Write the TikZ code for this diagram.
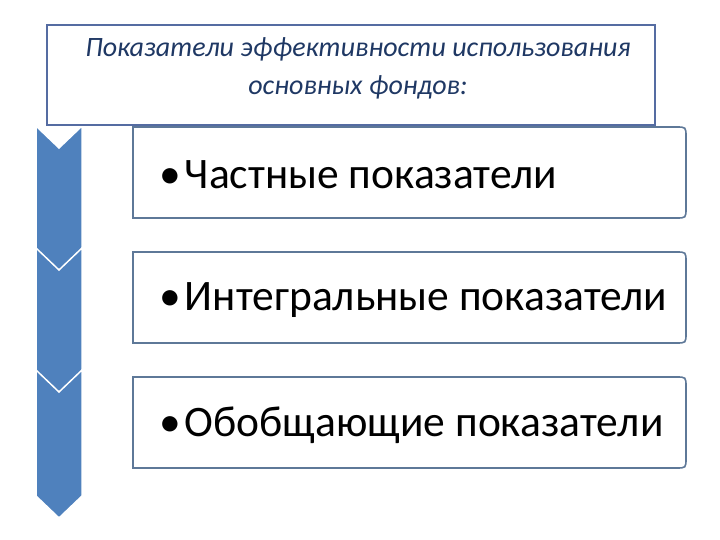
\documentclass[tikz,border=0pt]{standalone}
\usepackage{fontspec}
\setmainfont{Carlito}
\definecolor{chevblue}{HTML}{4F81BD}
\definecolor{framegray}{HTML}{5E7898}
\definecolor{titleblue}{HTML}{1F3864}
\begin{document}
\begin{tikzpicture}[x=1pt,y=-1pt,
    chevron/.style={fill=chevblue,draw=white,line width=1.5pt,line join=miter},
    itemframe/.style={draw=framegray,line width=1.6pt,fill=white},
    itemtext/.style={anchor=west,inner sep=0pt,font=\fontsize{43.5}{48}\selectfont},
    titlebox/.style={draw=framegray!90!blue,line width=1.6pt,fill=white,minimum width=608pt,minimum height=100pt,inner sep=0pt},
    titletext/.style={align=center,text=titleblue,inner sep=0pt,font=\fontsize{28}{38}\selectfont\itshape}]
\useasboundingbox[fill=white](0,0) rectangle (720,540);
% chevrons on the left
\foreach \yt in {126,248,370}
    \draw[chevron](36,\yt)--(59,\yt+22)--(82,\yt)--(82,\yt+126)--(59,\yt+148)--(36,\yt+126)--cycle;
% boxes with the kinds of indicators
\foreach \yt/\txt [count=\i] in {127/{Частные показатели},252/{Интегральные показатели},377/{Обобщающие показатели}}{
    \draw[itemframe](133,\yt+91)--(133,\yt)--(676,\yt) .. controls (686,\yt) .. (686,\yt+10)
        --(686,\yt+81) .. controls (686,\yt+91) .. (676,\yt+91)--cycle;
    \node[itemtext](item\i) at (159,\yt+48){•\hspace{4pt}\txt};
}
% heading
\node[titlebox](title) at (351,75){};
\node[titletext](titletxt) at (358,68){Показатели эффективности использования\\основных фондов:};
\end{tikzpicture}
\end{document}
